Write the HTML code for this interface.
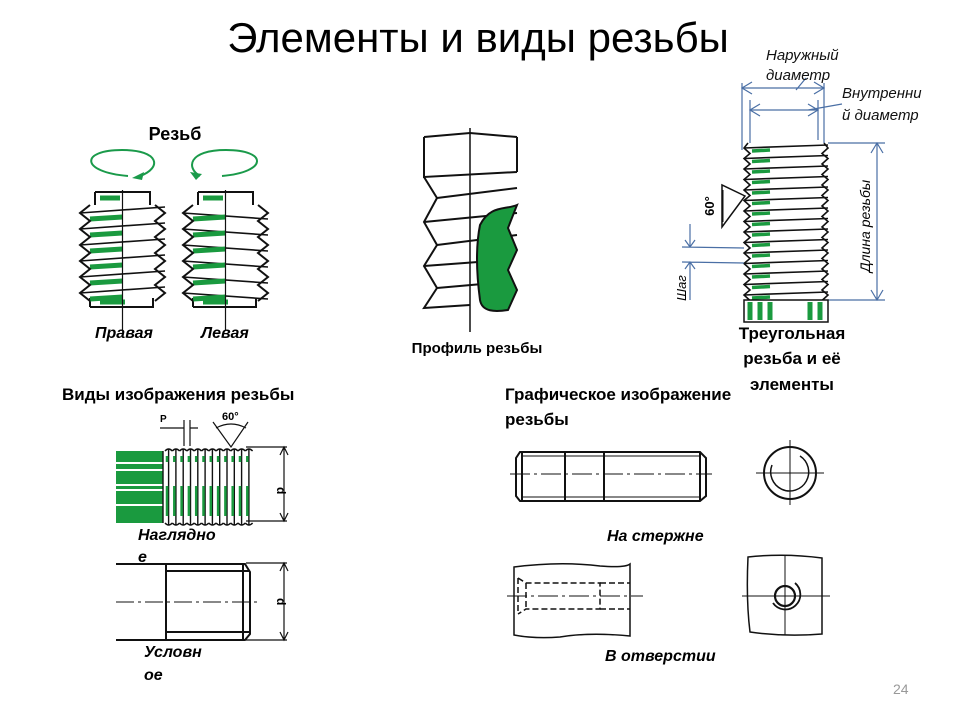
<!DOCTYPE html>
<html><head><meta charset="utf-8"><style>
html,body{margin:0;padding:0;background:#fff;width:960px;height:720px;overflow:hidden}
svg{display:block}
text{font-family:"Liberation Sans","DejaVu Sans",sans-serif}
</style></head><body>
<svg id="s" width="960" height="720" viewBox="0 0 960 720" xmlns="http://www.w3.org/2000/svg">
<text x="478" y="52" font-size="42" text-anchor="middle" fill="#000">Элементы и виды резьбы</text>
<text x="175" y="140" font-size="18" font-weight="bold" text-anchor="middle">Резьб</text>
<g id="bolts" stroke="#111" stroke-width="2" fill="none"></g>
<path d="M128 176 C 80 172, 80 150, 122 150 C 160 150, 162 168, 140 176" stroke="#1a9a4a" stroke-width="2" fill="none"/>
<path d="M132 178 l12 -6 l-2 8 z" fill="#1a9a4a"/>
<path d="M222 176 C 268 172, 268 150, 226 150 C 188 150, 186 168, 200 176" stroke="#1a9a4a" stroke-width="2" fill="none"/>
<path d="M190 172 l12 2 l-6 6 z" fill="#1a9a4a"/>
<text x="124" y="338" font-size="16" font-weight="bold" font-style="italic" text-anchor="middle">Правая</text>
<text x="225" y="338" font-size="16" font-weight="bold" font-style="italic" text-anchor="middle">Левая</text>

<g stroke="#111" stroke-width="2" fill="none">
<path d="M424 137 L470 133 L517 137 M424 137 L424 177 L517 172 M517 137 L517 172"/>
<path d="M424 177 L437 198 L424 222 L437 245 L424 266 L437 288 L424 308 L470 305"/>
<path d="M437 198 L517 188 M424 222 L517 213 M437 245 L517 235 M424 266 L505 260 M437 288 L505 282"/>
<path d="M470 128 L470 332" stroke-width="1.5"/>
</g>
<path d="M480 225 C 490 205, 505 210, 517 205 L 508 228 L517 250 L508 270 L517 290 L508 310 C 495 312, 482 312, 480 300 C 476 270, 476 245, 480 225 Z" fill="#1a9a3f" stroke="#111" stroke-width="2"/>
<text x="477" y="353" font-size="15" font-weight="bold" text-anchor="middle">Профиль резьбы</text>

<g id="tri" stroke="#111" stroke-width="1.6" fill="none"></g>
<g stroke="#4a6fa5" stroke-width="1.2" fill="none">
<path d="M742 83 L742 150 M824 83 L824 143 M742 88 L824 88 M750 100 L750 143 M818 100 L818 140 M750 110 L818 110 M796 90 L806 78 M808 110 L842 104"/>
<path d="M752 82 L742 88 L752 94 M814 82 L824 88 L814 94 M760 104 L750 110 L760 116 M808 104 L818 110 L808 116"/>
<path d="M828 143 L885 143 M828 300 L885 300 M877 143 L877 300 M871 153 L877 143 L883 153 M871 290 L877 300 L883 290"/>
<path d="M682 247 L744 248 M682 262 L744 263 M690 224 L690 247 M690 262 L690 300 M685 240 L690 247 L695 240 M685 269 L690 262 L695 269"/>
</g>
<path d="M745 196 L722 185 L722 227 Z" stroke="#111" stroke-width="1.5" fill="none"/>
<path d="M723 190 L723 222" stroke="#111" stroke-width="1"/>
<text x="714" y="206" font-size="13" font-weight="bold" transform="rotate(-90 714 206)" text-anchor="middle">60°</text>
<text x="766" y="60" font-size="15" font-style="italic" fill="#111">Наружный</text>
<text x="766" y="80" font-size="15" font-style="italic" fill="#111">диаметр</text>
<text x="842" y="98" font-size="15" font-style="italic" fill="#111">Внутренни</text>
<text x="842" y="120" font-size="15" font-style="italic" fill="#111">й диаметр</text>
<text x="870" y="226" font-size="14" font-style="italic" transform="rotate(-90 870 226)" text-anchor="middle">Длина резьбы</text>
<text x="686" y="288" font-size="13" font-style="italic" transform="rotate(-90 686 288)" text-anchor="middle">Шаг</text>
<rect x="744" y="300" width="84" height="22" fill="#fff" stroke="#111" stroke-width="1.5"/>
<path d="M750 302 v18 M760 302 v18 M770 302 v18 M810 302 v18 M820 302 v18" stroke="#1a9a3f" stroke-width="5"/>
<text x="792" y="339" font-size="17" font-weight="bold" text-anchor="middle">Треугольная</text>
<text x="792" y="364" font-size="17" font-weight="bold" text-anchor="middle">резьба и её</text>
<text x="792" y="390" font-size="17" font-weight="bold" text-anchor="middle">элементы</text>

<text x="62" y="400" font-size="17" font-weight="bold">Виды изображения резьбы</text>
<text x="505" y="400" font-size="17" font-weight="bold">Графическое изображение</text>
<text x="505" y="425" font-size="17" font-weight="bold">резьбы</text>

<rect x="116" y="451" width="47" height="72" fill="#1a9a3f"/>
<path d="M116 463 h47 M116 470 h47 M116 485 h47 M116 490 h47 M116 505 h47" stroke="#fff" stroke-width="2"/>
<g id="nag" stroke="#111" stroke-width="1.4" fill="none"></g>
<g stroke="#111" stroke-width="1.2" fill="none">
<path d="M246 447 L287 447 M246 521 L287 521 M284 447 L284 521 M280 455 L284 447 L288 455 M280 513 L284 521 L288 513"/>
<path d="M184 420 L184 446 M190 420 L190 446 M160 428 L184 428 M190 428 L198 428 M213 422 L231 447 L248 422 M216 428 Q 231 420 246 428"/>
</g>
<text x="160" y="422" font-size="10" font-weight="bold">P</text>
<text x="222" y="420" font-size="11" font-weight="bold">60°</text>
<text x="277" y="487" font-size="12" font-weight="bold" transform="rotate(90 277 487)">d</text>
<text x="138" y="540" font-size="16" font-weight="bold" font-style="italic">Наглядно</text>
<text x="138" y="562" font-size="16" font-weight="bold" font-style="italic">е</text>

<g stroke="#111" stroke-width="2" fill="none">
<path d="M116 564 L245 564 L250 572 L250 634 L245 640 L116 640"/>
<path d="M166 564 L166 640 M243 564 L243 640 M166 571 L250 571 M166 632 L250 632"/>
</g>
<path d="M116 602 L260 602" stroke="#111" stroke-width="1" stroke-dasharray="18 4 3 4"/>
<g stroke="#111" stroke-width="1.2" fill="none"><path d="M246 563 L287 563 M246 640 L287 640 M284 563 L284 640 M280 571 L284 563 L288 571 M280 632 L284 640 L288 632"/></g>
<text x="277" y="598" font-size="12" font-weight="bold" transform="rotate(90 277 598)">d</text>
<text x="144" y="657" font-size="16" font-weight="bold" font-style="italic">Условн</text>
<text x="144" y="680" font-size="16" font-weight="bold" font-style="italic">ое</text>

<g stroke="#111" stroke-width="2" fill="none">
<path d="M520 452 L700 452 L706 458 L706 496 L700 501 L520 501 L516 496 L516 458 Z"/>
<path d="M522 452 L522 501 M565 452 L565 501 M604 452 L604 501 M700 452 L700 501"/>
<path d="M522 456 L700 456 M522 497 L700 497" stroke-width="1"/>
<circle cx="790" cy="473" r="26"/>
<path d="M800 456 A 19 19 0 1 1 772 465" stroke-width="1.5"/>
</g>
<g stroke="#111" stroke-width="1" fill="none">
<path d="M510 474 L712 474" stroke-dasharray="20 4 3 4"/>
<path d="M756 473 L824 473 M790 440 L790 505"/>
</g>
<text x="607" y="541" font-size="16" font-weight="bold" font-style="italic">На стержне</text>

<g stroke="#111" stroke-width="1.5" fill="none">
<path d="M514 567 Q 560 561 600 566 Q 625 568 630 564 L630 636 Q 590 632 560 637 Q 535 639 514 635 Z"/>
<path d="M518 578 L518 614 M518 578 L526 583 L600 583 L600 609 L526 609 L518 614" stroke-dasharray="6 3"/>
<path d="M526 583 L526 609 M600 583 L630 583 M600 609 L630 609" stroke-dasharray="6 3"/>
<path d="M507 596 L643 596" stroke-width="1" stroke-dasharray="20 4 3 4"/>
<path d="M748 557 Q 785 553 822 558 L822 634 Q 785 637 750 632 Q 746 600 748 557 Z"/>
<circle cx="785" cy="596" r="10" stroke-width="2.2"/>
<path d="M795 583 A 15 15 0 1 1 773 603" stroke-width="1.8"/>
<path d="M742 596 L830 596 M785 555 L785 635" stroke-width="1"/>
</g>
<text x="605" y="661" font-size="16" font-weight="bold" font-style="italic">В отверстии</text>
<text x="893" y="694" font-size="14" fill="#999">24</text>
</svg>
<script>
var NS="http://www.w3.org/2000/svg";
function P(g,d,extra){var p=document.createElementNS(NS,"path");p.setAttribute("d",d);if(extra)for(var k in extra)p.setAttribute(k,extra[k]);document.getElementById(g).appendChild(p);}
[[80,165,1],[183,268,-1]].forEach(function(b){
 var L=b[0],R=b[1],dir=b[2],c=(L+R)/2;
 P("bolts","M"+(L+15)+" 192 L"+(R-15)+" 192 L"+(R-15)+" 205 M"+(L+15)+" 192 L"+(L+15)+" 205");
 P("bolts","M"+(L+10)+" 307 L"+(R-12)+" 307 L"+(R-12)+" 298 M"+(L+10)+" 307 L"+(L+10)+" 298");
 var zl="M"+(L+10)+" 205",zr="M"+(R-10)+" 205";
 for(var i=0;i<6;i++){var y=205+i*16;zl+=" L"+L+" "+(y+8)+" L"+(L+10)+" "+(y+16);zr+=" L"+R+" "+(y+8)+" L"+(R-10)+" "+(y+16);
  P("bolts","M"+L+" "+(y+8)+" L"+R+" "+(y+8+(dir>0?-6:6)),{"stroke-width":"1.6"});
  P("bolts","M"+(L+10)+" "+(y+14)+" L"+(c)+" "+(y+12),{"stroke":"#1a9a3f","stroke-width":"5"});
 }
 P("bolts",zl);P("bolts",zr);
 P("bolts","M"+(L+20)+" 198 h20 M"+(L+20)+" 302 h25",{"stroke":"#1a9a3f","stroke-width":"5"});
 P("bolts","M"+c+" 190 L"+c+" 330",{"stroke-width":"1.2"});
});
var tl="M748 143",tr="M824 143";
for(var i=0;i<15;i++){var y=143+i*10.5;tl+=" L744 "+(y+5)+" L750 "+(y+10.5);tr+=" L828 "+(y+5)+" L822 "+(y+10.5);
 P("tri","M744 "+(y+5)+" L828 "+(y+2));
 P("tri","M752 "+(y+8)+" L770 "+(y+7),{"stroke":"#1a9a3f","stroke-width":"3.5"});
}
P("tri",tl);P("tri",tr);
P("nag","M163 451 L163 523");
for(var i=0;i<12;i++){var x=165+i*7.3;
 P("nag","M"+x+" 451 q3.6 -4 7.3 0 M"+x+" 523 q3.6 4 7.3 0 M"+(x+3.6)+" 449 L"+(x+3.6)+" 525");
 P("nag","M"+(x+2)+" 456 v6 M"+(x+2)+" 486 v30",{"stroke":"#1a9a3f","stroke-width":"2.5"});
}
</script>
</body></html>
